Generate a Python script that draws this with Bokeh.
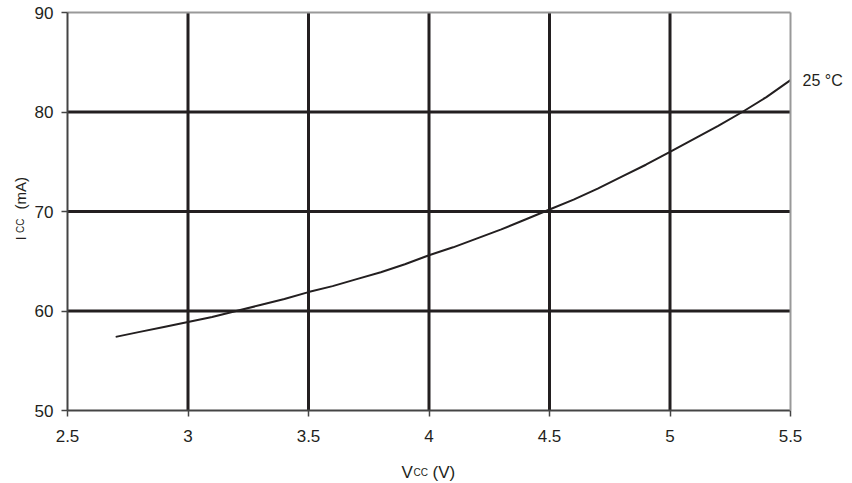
from bokeh.plotting import figure
from bokeh.models import Range1d, FixedTicker, Label, LinearAxis
from bokeh.embed import file_html
from bokeh.resources import INLINE
import math

# Data
vcc = [2.7, 2.8, 2.9, 3.0, 3.1, 3.2, 3.3, 3.4, 3.5, 3.6, 3.7, 3.8, 3.9, 4.0,
       4.1, 4.2, 4.3, 4.4, 4.5, 4.6, 4.7, 4.8, 4.9, 5.0, 5.1, 5.2, 5.3, 5.4, 5.5]
icc = [57.4, 57.9, 58.4, 58.9, 59.4, 60.0, 60.6, 61.2, 61.9, 62.5, 63.2, 63.9,
       64.7, 65.6, 66.4, 67.3, 68.2, 69.2, 70.2, 71.2, 72.3, 73.5, 74.7, 76.0,
       77.3, 78.6, 80.0, 81.5, 83.2]
x_ticks = [2.5, 3, 3.5, 4, 4.5, 5, 5.5]
y_ticks = [50, 60, 70, 80, 90]
x_grid = [3, 3.5, 4, 4.5, 5]
y_grid = [60, 70, 80]
series_label = "25 °C"

INK = "#231f20"
FONT = "Liberation Sans"

# Canvas geometry (pixels): plot box from x=67..790, y=12..410 on an 852x483 canvas
W, H = 852, 483
XMIN, XMAX, YMIN, YMAX = 2.5, 5.5, 50, 90
L, R, T, B = 67, 790, 12, 410
sx = (R - L) / (XMAX - XMIN)
sy = (B - T) / (YMAX - YMIN)
xr = Range1d(XMIN - L / sx, XMIN + (W - L) / sx)
yr = Range1d(YMIN - (H - B) / sy, YMAX + T / sy)

p = figure(width=W, height=H, output_backend="svg", toolbar_location=None,
           x_range=xr, y_range=yr, x_axis_type=None, y_axis_type=None,
           min_border=0)
p.min_border_left = 0
p.min_border_right = 0
p.min_border_top = 0
p.min_border_bottom = 0
p.outline_line_color = None
p.background_fill_color = "white"
p.border_fill_color = "white"

# grid lines (interior only)
p.segment(x0=x_grid, y0=[YMIN] * len(x_grid), x1=x_grid, y1=[YMAX] * len(x_grid),
          line_color=INK, line_width=3)
p.segment(x0=[XMIN] * len(y_grid), y0=y_grid, x1=[XMAX] * len(y_grid), y1=y_grid,
          line_color=INK, line_width=3)

# main axes at fixed locations
xaxis = LinearAxis(fixed_location=YMIN, bounds=(XMIN, XMAX),
                   ticker=FixedTicker(ticks=x_ticks))
yaxis = LinearAxis(fixed_location=XMIN, bounds=(YMIN, YMAX),
                   ticker=FixedTicker(ticks=y_ticks))
for ax in (xaxis, yaxis):
    ax.axis_line_color = "#444444"
    ax.axis_line_width = 2
    ax.major_tick_line_color = "#444444"
    ax.major_tick_line_width = 1.5
    ax.major_tick_out = 6
    ax.major_tick_in = 0
    ax.minor_tick_line_color = None
    ax.major_label_text_font = FONT
    ax.major_label_text_font_size = "17px"
    ax.major_label_text_color = INK
xaxis.major_label_standoff = 13
yaxis.major_label_standoff = 8
xaxis.major_label_overrides = {2.5: "2.5", 3: "3", 3.5: "3.5", 4: "4",
                               4.5: "4.5", 5: "5", 5.5: "5.5"}

# top / right frame borders (grey)
topaxis = LinearAxis(fixed_location=YMAX, bounds=(XMIN, XMAX),
                     ticker=FixedTicker(ticks=[]))
rightaxis = LinearAxis(fixed_location=XMAX, bounds=(YMIN, YMAX),
                       ticker=FixedTicker(ticks=[]))
for ax in (topaxis, rightaxis):
    ax.axis_line_color = "#999999"
    ax.axis_line_width = 2
    ax.major_tick_line_color = None
    ax.minor_tick_line_color = None
    ax.major_label_text_font_size = "0px"

p.add_layout(topaxis, "above")
p.add_layout(rightaxis, "right")
p.add_layout(xaxis, "below")
p.add_layout(yaxis, "left")

p.line(vcc, icc, line_color=INK, line_width=2)

p.add_layout(Label(x=vcc[-1], y=icc[-1], text=series_label, x_offset=12,
                   text_baseline="middle", text_align="left",
                   text_font=FONT, text_font_size="16px", text_color=INK))


def lab(x, y, text, size, angle=0.0):
    p.add_layout(Label(x=x, y=y, text=text, angle=angle, text_font=FONT,
                       text_font_size=size, text_color=INK,
                       text_baseline="alphabetic", text_align="left"))


# x axis title: V_CC (V)
xb = YMIN - (472 - B) / sy
lab(XMIN + (401 - L) / sx, xb, "V", "17px")
lab(XMIN + (413 - L) / sx, xb, "CC", "10px")
lab(XMIN + (432 - L) / sx, xb, "(V)", "17px")

# y axis title: I_CC (mA)
yx = XMIN - (L - 19.5) / sx
a = math.pi / 2
lab(yx, YMIN + (B - 240) / sy, "I", "15px", a)
lab(yx, YMIN + (B - 232.5) / sy, "CC", "10px", a)
lab(yx, YMIN + (B - 209) / sy, "(mA)", "15px", a)

open("out.html", "w").write(file_html(p, INLINE))
